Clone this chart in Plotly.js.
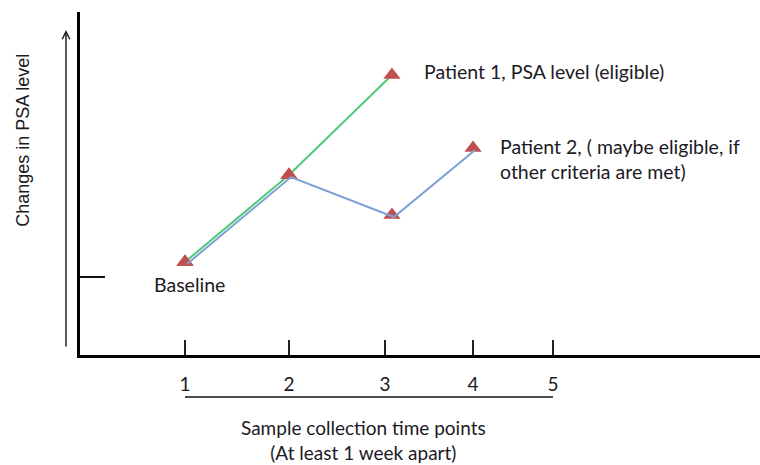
<!DOCTYPE html>
<html>
<head>
<meta charset="utf-8">
<script src="https://cdn.plot.ly/plotly-3.0.1.min.js"></script>
<style>html,body{margin:0;padding:0;background:#fff;}#chart{width:760px;height:465px;}</style>
</head>
<body>
<div id="chart"></div>
<script>
// ---- data ----
var tickPositions = [1, 2, 2.923, 3.769, 4.538];
var tickLabels = ['1', '2', '3', '4', '5'];
var baselineTickValue = [0.839];

var patient1Time = [1, 2, 2.99];
var patient1PSA = [1, 1.935, 3.01];

var patient2Time = [1, 2, 2.99, 3.77];
var patient2PSA = [1, 1.935, 1.505, 2.226];

var labels = {
  patient1: 'Patient 1, PSA level (eligible)',
  patient2: 'Patient 2, ( maybe eligible, if<br>other criteria are met)',
  baseline: 'Baseline',
  yTitle: 'Changes in PSA level',
  xTitle: 'Sample collection time points<br>(At least 1 week apart)'
};

// ---- style ----
var xRange = [-0.0096, 6.529];
var yRange = [0, 3.688];
var pxX = (xRange[1] - xRange[0]) / 680;
var pxY = (yRange[1] - yRange[0]) / 343;
var fam = 'Lato, "Open Sans", sans-serif';
var textFont = {family: fam, size: 19.5, color: '#1c1a24'};
var red = '#c0504d';

var traces = [
  {x: patient2Time, y: patient2PSA, xaxis: 'x2', yaxis: 'y2', mode: 'lines',
   line: {color: '#7c9fd6', width: 2}, hoverinfo: 'skip'},
  {x: patient1Time, y: patient1PSA, mode: 'lines',
   line: {color: '#4fc878', width: 2}, hoverinfo: 'skip'},
  {x: patient1Time, y: patient1PSA, mode: 'markers',
   marker: {symbol: 'triangle-up', size: 15, color: red}},
  {x: patient2Time, y: patient2PSA, mode: 'markers',
   marker: {symbol: 'triangle-up', size: 15, color: red}}
];

var layout = {
  width: 760, height: 465,
  margin: {l: 80, r: 0, t: 12, b: 110},
  paper_bgcolor: '#fff', plot_bgcolor: '#fff',
  showlegend: false,
  xaxis: {
    range: xRange, showgrid: false, zeroline: false,
    showline: true, linewidth: 3, linecolor: '#000',
    tickvals: tickPositions, ticktext: tickLabels,
    ticks: 'inside', ticklen: 15, tickwidth: 2, tickcolor: '#222',
    ticklabelstandoff: 10,
    tickfont: {family: fam, size: 19, color: '#1c1a24'}
  },
  yaxis: {
    range: yRange, showgrid: false, zeroline: false,
    showline: true, linewidth: 3, linecolor: '#000',
    tickvals: baselineTickValue, showticklabels: false,
    ticks: 'inside', ticklen: 25, tickwidth: 1.5, tickcolor: '#111'
  },
  xaxis2: {overlaying: 'x', visible: false, range: [xRange[0] - 2 * pxX, xRange[1] - 2 * pxX]},
  yaxis2: {overlaying: 'y', visible: false, range: [yRange[0] + 2 * pxY, yRange[1] + 2 * pxY]},
  shapes: [
    {type: 'line', xref: 'x', yref: 'paper',
     x0: tickPositions[0], x1: tickPositions[tickPositions.length - 1],
     y0: -0.1224, y1: -0.1224, line: {color: '#111', width: 1.5}}
  ],
  annotations: [
    {xref: 'paper', yref: 'paper', x: -0.0206, y: 0.9475, ax: 0, ay: 318,
     showarrow: true, arrowhead: 5, arrowsize: 1, arrowwidth: 1.5, arrowcolor: '#222', text: ''},
    {xref: 'paper', yref: 'paper', x: -0.085, y: 0.625, xanchor: 'center', yanchor: 'middle',
     textangle: -90, showarrow: false, text: labels.yTitle,
     font: {family: '"Liberation Sans", Arial, sans-serif', size: 18, color: '#1c1a24'}},
    {xref: 'paper', yref: 'paper', x: (422 - 80) / 680, y: (355 - 71) / 343, xanchor: 'left', yanchor: 'middle',
     showarrow: false, text: labels.patient1, font: textFont},
    {xref: 'paper', yref: 'paper', x: (498 - 80) / 680, y: (355 - 158.5) / 343, xanchor: 'left', yanchor: 'middle',
     showarrow: false, align: 'left', text: labels.patient2, font: textFont},
    {xref: 'paper', yref: 'paper', x: (189 - 80) / 680, y: (355 - 284) / 343, xanchor: 'center', yanchor: 'middle',
     showarrow: false, text: labels.baseline, font: textFont},
    {xref: 'paper', yref: 'paper', x: (363 - 80) / 680, y: (355 - 440) / 343, xanchor: 'center', yanchor: 'middle',
     showarrow: false, align: 'center', text: labels.xTitle,
     font: {family: fam, size: 19, color: '#1c1a24'}}
  ]
};

Plotly.newPlot('chart', traces, layout, {staticPlot: true, displayModeBar: false});
</script>
</body>
</html>
